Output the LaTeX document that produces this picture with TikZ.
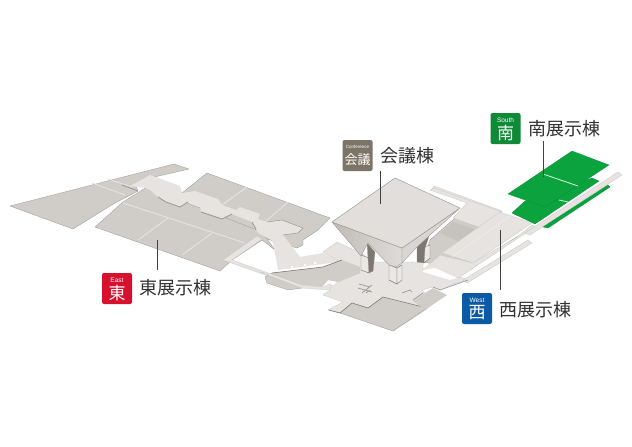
\documentclass[tikz,border=0pt]{standalone}
\usepackage{fontspec}
\setmainfont{Liberation Sans}
\newfontfamily\jp{Noto Sans CJK JP}
\definecolor{hall}{HTML}{D0CCC8}
\definecolor{pale}{HTML}{E6E3E0}
\definecolor{edge}{HTML}{9A9692}
\definecolor{shade}{HTML}{C0BBB6}
\definecolor{dark}{HTML}{7D7771}
\definecolor{grn}{HTML}{0BA33E}
\tikzset{
  hallp/.style={fill=hall,draw=edge,line width=.3pt,line join=round},
  palep/.style={fill=pale,draw=edge!55,line width=.25pt,line join=round},
  columnp/.style={fill=pale!85!white,draw=edge!80!black,line width=.45pt,line join=round},
  greenp/.style={fill=grn,draw=grn!85!black,line width=.25pt,line join=round},
  gap/.style={draw=pale,line width=.9pt},
  slot/.style={draw=edge,line width=.8pt,line join=round},
  leader/.style={draw=black!75,line width=.9pt},
  badge/.style={rounded corners=2pt,minimum width=30pt,minimum height=31pt,inner sep=0pt},
  namelabel/.style={font=\jp\fontsize{18}{18}\selectfont,text=black!80,anchor=west,inner sep=0pt},
  bigglyph/.style={font=\jp\fontsize{17}{17}\selectfont,text=white,inner sep=0pt},
  smallword/.style={font=\fontsize{6.5}{7}\selectfont,text=white,inner sep=0pt}
}
\begin{document}
\begin{tikzpicture}[x=1pt,y=-1pt]
\useasboundingbox (0,0) rectangle (632,447);
\fill[white] (0,0) rectangle (632,447);
% East wing
\draw[hallp] (10,206) -- (174,164) -- (189,169) -- (150,178) -- (135,183) -- (138,191) -- (115,203) -- (73,229) -- cycle;
\draw[gap] (92,183) -- (125,195);
\draw[gap] (108,179) -- (132,187);
\draw[hallp] (182,193) -- (207,173) -- (330,218) -- (318,230) -- (303,240) -- (303,245) -- (297,248) -- (260,237) -- cycle;
\draw[gap] (247,187) -- (222,205);
\draw[gap] (288,202) -- (265,222);
\draw[hallp] (95,227) -- (123,202) -- (147,187) -- (262,232) -- (275,250) -- (262,240) -- (232,260) -- (220,271) -- cycle;
\draw[gap] (123,203) -- (245,243);
\draw[gap] (168,218) -- (138,240);
\draw[gap] (212,233) -- (182,255);
% east corridor and its cross arm
\fill[pale] (130,186) -- (150,175) -- (180,186) -- (182,193) -- (195,191) -- (218,199) -- (222,205) -- (236,210) -- (240,207) -- (260,214) -- (258,219) -- (267,222) -- (282,220) -- (303,228) -- (298,233) -- (283,235) -- (300,257) -- (323,253) -- (340,262) -- (322,264) -- (278,270) -- (277,263) -- (272,240) -- (258,233) -- (252,222) -- (232,214) -- (222,219) -- (201,212) -- (200,207) -- (188,202) -- (180,207) -- (166,202) -- (158,197) -- (150,190) -- (146,188) -- cycle;
\draw[edge,line width=.5pt] (267,222) -- (282,220) -- (303,228) -- (298,233) -- (283,235);
\draw[slot] (122,185) -- (138,191);
\draw[slot] (158,197) -- (166,202) -- (180,207) -- (188,202);
\draw[slot] (201,212) -- (222,219) -- (232,214);
\draw[slot] (252,222) -- (256,229);
\foreach \a/\b/\c/\d in {157,182,175,188, 197,195,215,201, 238,210,257,216, 250,224,268,229, 242,227,255,233, 167,195,185,201, 208,209,227,215}
  \draw[slot] (\a,\b) -- (\c,\d);
\fill[white] (292,267) circle (1.5) (305,265) circle (1.5) (315,263) circle (1.5);
% thin loop
\draw[palep] (223,260) -- (257,236) -- (262,239) -- (232,260) -- (302,285) -- (302,288) -- cycle;
% Plaza
\draw[palep] (323,252) -- (337,242) -- (365,255) -- (365,262) -- (423,262) -- (423,269) -- (468,279) -- (440,290) -- (433,287) -- (422,290) -- (425,293) -- (427,309) -- (393,331) -- (350,315) -- (340,313) -- (328,310) -- (343,302) -- (323,295) -- (330,290) -- (323,288) -- (338,282) -- (360,273) -- (340,262) -- cycle;
\draw[hallp] (265,277) -- (272,273) -- (302,285) -- (302,288) -- (288,290) -- (267,283) -- cycle;
\draw[palep] (260,272) -- (272,274) -- (302,285) -- (323,287) -- (332,283) -- (330,290) -- (302,288) -- cycle;
\fill[hall] (272,273) -- (323,267) -- (342,260) -- (360,267) -- (360,273) -- (338,282) -- (328,280) -- (322,287) -- (302,285) -- cycle;
\draw[edge!80!black,line width=.6pt] (272,273) -- (323,267) -- (342,260);
\fill[white] (329,283) -- (337,282) -- (333,285) -- cycle;
% West
\draw[palep] (434,186) -- (502,211) -- (500,213) -- (432,189) -- cycle;
\draw[hallp] (455,218) -- (480,228) -- (445,252) -- (474,264) -- (518,236) -- (470,270) -- (423,262) -- (430,240) -- cycle;
\draw[gap] (442,233) -- (460,239);
\fill[shade!60!hall] (453,222) -- (475,229) -- (458,241) -- (440,233) -- cycle;
\draw[palep] (430,190) -- (467,203) -- (453,218) -- (478,227) -- (502,212) -- (434,188) -- cycle;
\draw[palep] (463,280) -- (528,240) -- (532,243) -- (467,283) -- cycle;
\draw[palep] (473,263) -- (517,237) -- (532,225) -- (535,226) -- (523,235) -- (458,278) -- (453,277) -- (443,273) -- (423,270) -- (440,255) -- cycle;
\fill[white] (423,270) -- (435,268) -- (457,278) -- (450,280) -- (440,277) -- (423,272) -- cycle;
\draw[palep] (442,253) -- (500,212) -- (532,223) -- (473,263) -- cycle;
\draw[draw=pale!60!white,line width=.6pt] (510,216) -- (452,257);
% long strip
\draw[palep] (525,233) -- (618,172) -- (622,175) -- (530,235) -- cycle;
% Floors
\fill[hall] (340,313) -- (352,303) -- (368,308) -- (383,297) -- (427,308) -- (393,331) -- cycle;
\draw[edge,line width=.3pt] (340,313) -- (393,331) -- (427,308);
\draw[edge!80!black,line width=.6pt] (329,310) -- (340,313) -- (352,303) -- (368,308) -- (383,297) -- (427,308);
\fill[hall] (413,301) -- (425,293) -- (433,288) -- (447,295) -- (425,310) -- cycle;
\draw[edge,line width=.6pt] (433,287) -- (440,290) -- (468,280);
\draw[edge,line width=.7pt] (358,288) -- (372,292) (362,293) -- (372,285) (359,284) -- (370,287) (366,293) -- (370,290);
\draw[edge,line width=.7pt] (402,293) -- (410,290) -- (412,292) (413,300) -- (423,293);
% Columns
\draw[columnp] (361,255) -- (369,258) -- (369,273) -- (361,270) -- cycle;
\draw[fill=dark,draw=edge,line width=.3pt] (367,243) -- (375,252) -- (373,271) -- (369,273) -- (368,258) -- cycle;
\draw[columnp] (389,265) -- (397,268) -- (397,284) -- (389,280) -- cycle;
\draw[columnp] (397,268) -- (402,265) -- (402,280) -- (397,284) -- cycle;
\draw[columnp] (424,247) -- (430,245) -- (430,258) -- (424,263) -- cycle;
\draw[fill=dark,draw=edge,line width=.3pt] (417,247) -- (430,233) -- (425,248) -- (424,263) -- (417,262) -- cycle;
% Funnel faces
\draw[left color=shade,right color=hall!70!white,draw=edge,line width=.35pt,line join=round] (332,222) -- (402,248) -- (402,263) -- (396,267) -- (389,265) -- (368,243) -- (361,256) -- cycle;
\draw[fill=hall!60!pale,draw=edge,line width=.35pt,line join=round] (402,248) -- (460,208) -- (430,235) -- (417,247) -- (402,263) -- cycle;
\draw[fill=pale!80!hall,draw=edge,line width=.45pt,line join=round] (332,222) -- (395,178) -- (460,208) -- (402,248) -- cycle;
% South
\draw[greenp] (512,213) -- (525,201) -- (592,178) -- (599,181) -- (535,224) -- cycle;
\draw[draw=green!15!white,line width=.8pt] (559,200) -- (568,202);
\draw[greenp] (508,194) -- (572,151) -- (609,165) -- (545,207) -- cycle;
\draw[draw=green!15!white,line width=.8pt] (543,174) -- (578,186);
\draw[greenp] (543,227) -- (608,185) -- (610,187) -- (548,228) -- cycle;
% Badges
\node[badge,fill={rgb,255:red,215;green,16;blue,46}] (eastbox) at (117,288.5) {};
\node[smallword] (eastword) at (117,280) {East};
\node[bigglyph] (eastglyph) at (117,293) {東};
\node[namelabel] (eastname) at (139,288) {東展示棟};
\node[badge,fill={rgb,255:red,125;green,116;blue,104}] (confbox) at (357.5,155.5) {};
\node[font=\fontsize{4.5}{5}\selectfont,text=white,inner sep=0pt] (confword) at (357.5,147) {Conference};
\node[font=\jp\fontsize{13}{13}\selectfont,text=white,inner sep=0pt] (confglyph) at (357.5,160) {会議};
\node[namelabel] (confname) at (380,156) {会議棟};
\node[badge,fill={rgb,255:red,15;green,138;blue,54}] (southbox) at (505.5,128.5) {};
\node[smallword] (southword) at (505.5,120) {South};
\node[bigglyph] (southglyph) at (505.5,133) {南};
\node[namelabel] (southname) at (528,129) {南展示棟};
\node[badge,fill={rgb,255:red,10;green,90;blue,165}] (westbox) at (477,308.5) {};
\node[smallword] (westword) at (477,300) {West};
\node[bigglyph] (westglyph) at (477,313) {西};
\node[namelabel] (westname) at (499,310) {西展示棟};
% Leaders
\coordinate (eastA) at (157,270); \coordinate (eastB) at (157,240);
\coordinate (confA) at (380.5,171); \coordinate (confB) at (380.5,204);
\coordinate (southA) at (543,141); \coordinate (southB) at (543,177);
\coordinate (westA) at (500.5,290); \coordinate (westB) at (500.5,230);
\draw[leader] (eastA) -- (eastB);
\draw[leader] (confA) -- (confB);
\draw[leader] (southA) -- (southB);
\draw[leader] (westA) -- (westB);
\end{tikzpicture}
\end{document}
